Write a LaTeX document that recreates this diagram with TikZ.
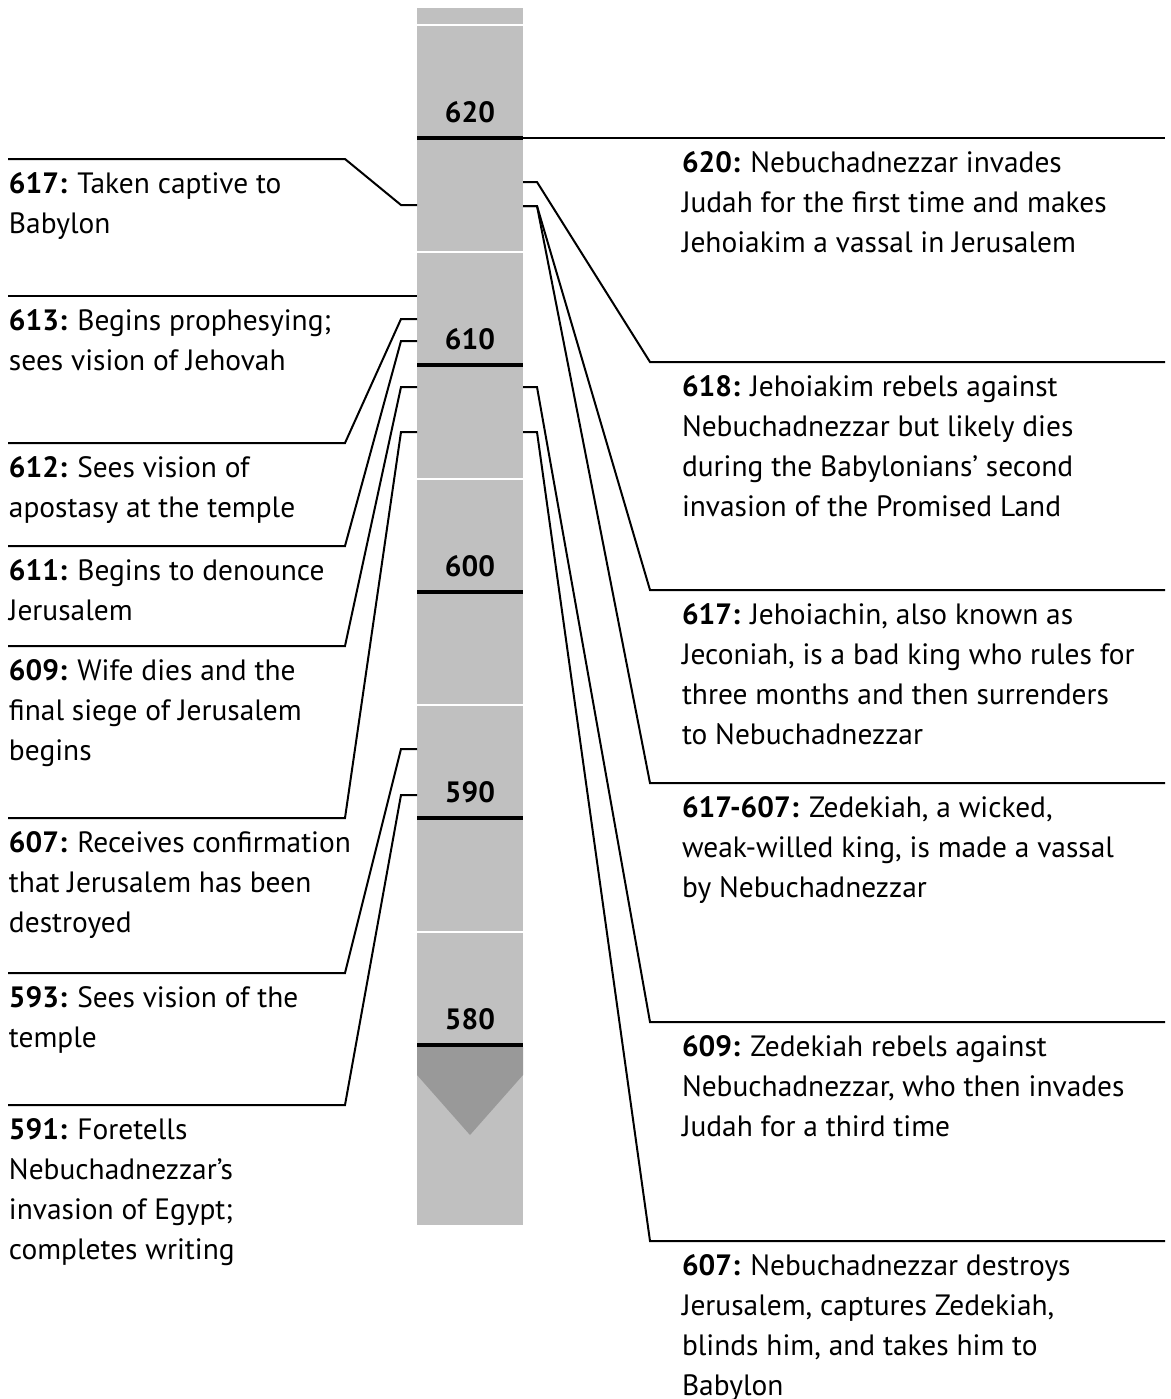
\documentclass[tikz,border=0pt]{standalone}
\usepackage{fontspec}
\setmainfont{PT Sans}
\usepackage{tikz}
\usetikzlibrary{calc}
\definecolor{barfill}{RGB}{192,192,192}
\definecolor{tipfill}{RGB}{153,153,153}

\begin{document}
\begin{tikzpicture}[x=0.5pt,y=-0.5pt,every path/.style={line width=1pt}]
  \tikzstyle{event} = [anchor=north west,inner xsep=0pt,inner ysep=2.5pt,align=left,font=\fontsize{14.7}{20}\selectfont];
  \tikzset{revent/.style={event,inner xsep=15.5pt}};
  \tikzset{year/.style={anchor=base,font=\fontsize{14.7}{20}\selectfont\bfseries}};
  \useasboundingbox (0,0) rectangle (1171,1399);
  % the time bar
  \fill[barfill] (417,8) rectangle (523,1225);
  \fill[tipfill] (417,1047) -- (523,1047) -- (523,1075) -- (470,1135) -- (417,1075) -- cycle;
  \foreach \y/\yr in {138/620,365/610,592/600,818/590,1045/580}{
    \draw[white,line width=1.3pt] (417,\y-113) -- (523,\y-113);
    \draw[line width=1.6pt] (417,\y) -- (523,\y);
    \node[year] (y\yr) at (470,\y-16) {\yr};
  }
  % points on the bar
  \coordinate (a617) at (417,205);
  \coordinate (a613) at (417,296);
  \coordinate (a612) at (417,319);
  \coordinate (a611) at (417,341);
  \coordinate (a609) at (417,387);
  \coordinate (a607) at (417,432);
  \coordinate (a593) at (417,749);
  \coordinate (a591) at (417,795);
  \coordinate (c620) at (523,138);
  \coordinate (c618) at (523,182);
  \coordinate (c617) at (523,206);
  \coordinate (c609) at (523,387);
  \coordinate (c607) at (523,432);
  % Ezekiel
  \node[event] (l617) at (8,159) {\strut\textbf{617:} Taken captive to\\Babylon};
  \node[event] (l613) at (8,296) {\strut\textbf{613:} Begins prophesying;\\sees vision of Jehovah};
  \node[event] (l612) at (8,443) {\strut\textbf{612:} Sees vision of\\apostasy at the temple};
  \node[event] (l611) at (8,546) {\strut\textbf{611:} Begins to denounce\\Jerusalem};
  \node[event] (l609) at (8,646) {\strut\textbf{609:} Wife dies and the\\final siege of Jerusalem\\begins};
  \node[event] (l607) at (8,818) {\strut\textbf{607:} Receives confirmation\\that Jerusalem has been\\destroyed};
  \node[event] (l593) at (8,973) {\strut\textbf{593:} Sees vision of the\\temple};
  \node[event] (l591) at (8,1105) {\strut\textbf{591:} Foretells\\Nebuchadnezzar’s\\invasion of Egypt;\\completes writing};
  % kings of Judah
  \node[revent] (r620) at (650,138) {\strut\textbf{620:} Nebuchadnezzar invades\\Judah for the first time and makes\\Jehoiakim a vassal in Jerusalem};
  \node[revent] (r618) at (650,362) {\strut\textbf{618:} Jehoiakim rebels against\\Nebuchadnezzar but likely dies\\during the Babylonians’ second\\invasion of the Promised Land};
  \node[revent] (r617) at (650,590) {\strut\textbf{617:} Jehoiachin, also known as\\Jeconiah, is a bad king who rules for\\three months and then surrenders\\to Nebuchadnezzar};
  \node[revent] (r617607) at (650,783) {\strut\textbf{617-607:} Zedekiah, a wicked,\\weak-willed king, is made a vassal\\by Nebuchadnezzar};
  \node[revent] (r609) at (650,1022) {\strut\textbf{609:} Zedekiah rebels against\\Nebuchadnezzar, who then invades\\Judah for a third time};
  \node[revent] (r607) at (650,1241) {\strut\textbf{607:} Nebuchadnezzar destroys\\Jerusalem, captures Zedekiah,\\blinds him, and takes him to\\Babylon};
  % connectors
  \draw (l613.north west) -- (a613);
  \foreach \e in {617,612,611,609,607,593,591}
    \draw (l\e.north west) -- +(337,0) -- ([xshift=-8pt]a\e) -- (a\e);
  \draw (c620) -- (r620.north west) -- +(515,0);
  \draw (c618) -- +(14,0) -- (r618.north west) -- +(515,0);
  \draw (c617) -- +(14,0) -- (r617.north west) -- +(515,0);
  \draw (c617) -- +(14,0) -- (r617607.north west) -- +(515,0);
  \draw (c609) -- +(14,0) -- (r609.north west) -- +(515,0);
  \draw (c607) -- +(14,0) -- (r607.north west) -- +(515,0);
\end{tikzpicture}
\end{document}
